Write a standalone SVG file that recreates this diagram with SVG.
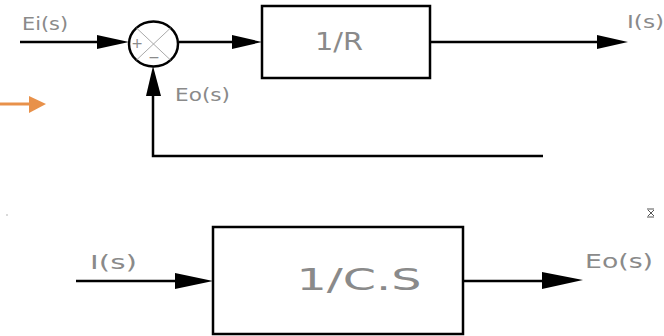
<svg xmlns="http://www.w3.org/2000/svg" width="664" height="336" viewBox="0 0 664 336">
<style>
.ln{stroke:#000;stroke-width:2.5;fill:none}
.bx{stroke:#000;stroke-width:2.5;fill:#fff}
.ah{fill:#000}
.lb{font-family:"DejaVu Sans","Liberation Sans",sans-serif;fill:#8a8a8a}
</style>
<rect width="664" height="336" fill="#fff"/>
<g id="connectors">
<line class="ln" x1="20" y1="42" x2="110" y2="42"/>
<polygon class="ah" points="97,35 129,42 97,49"/>
<line class="ln" x1="179" y1="42" x2="240" y2="42"/>
<polygon class="ah" points="232,35 262,42 232,49"/>
<line class="ln" x1="430" y1="42" x2="605" y2="42"/>
<polygon class="ah" points="597,35 628,42 597,49"/>
<polyline class="ln" points="543,156 153,156 153,85"/>
<polygon class="ah" points="146,96 153,66 161,96"/>
<line class="ln" x1="76" y1="281" x2="185" y2="281"/>
<polygon class="ah" points="175,273 213,281 175,289"/>
<line class="ln" x1="463" y1="281" x2="550" y2="281"/>
<polygon class="ah" points="542,272 583,280 542,289"/>
<line x1="0" y1="104" x2="32" y2="104" stroke="#E8914A" stroke-width="3"/>
<polygon points="29,96 46,104 29,113" fill="#E8914A"/>
</g>
<g id="sum">
<ellipse class="ln" cx="153.5" cy="44" rx="24.5" ry="22.5" fill="#fff"/>
<line x1="136.5" y1="28" x2="170.5" y2="60" stroke="#aaa" stroke-width="1"/>
<line x1="170.5" y1="28" x2="136.5" y2="60" stroke="#aaa" stroke-width="1"/>
<text class="lb" x="137" y="48" font-size="14" text-anchor="middle">+</text>
<text class="lb" x="154" y="62" font-size="14" text-anchor="middle">−</text>
</g>
<g id="box-r">
<rect class="bx" x="262" y="6" width="168" height="72"/>
<text class="lb" x="339" y="50" font-size="25" text-anchor="middle" textLength="48" lengthAdjust="spacingAndGlyphs">1/R</text>
</g>
<g id="box-cs">
<rect class="bx" x="213" y="227" width="250" height="107"/>
<text class="lb" x="359" y="290" font-size="31" text-anchor="middle" textLength="125" lengthAdjust="spacingAndGlyphs">1/C.S</text>
</g>
<g id="labels">
<text class="lb" x="22" y="30" font-size="18" textLength="46" lengthAdjust="spacingAndGlyphs">Ei(s)</text>
<text class="lb" x="627" y="28" font-size="18" textLength="37" lengthAdjust="spacingAndGlyphs">I(s)</text>
<text class="lb" x="175" y="101" font-size="18" textLength="55" lengthAdjust="spacingAndGlyphs">Eo(s)</text>
<text class="lb" x="90" y="269" font-size="19" textLength="47" lengthAdjust="spacingAndGlyphs">I(s)</text>
<text class="lb" x="585" y="268" font-size="19" textLength="68" lengthAdjust="spacingAndGlyphs">Eo(s)</text>
</g>
<g id="marks">
<circle cx="7" cy="215" r="0.8" fill="#aaa"/>
<path d="M647,209h7M648,210l6,6M654,210l-6,6M647,217h7" stroke="#555" stroke-width="1" fill="none"/>
</g>
</svg>
